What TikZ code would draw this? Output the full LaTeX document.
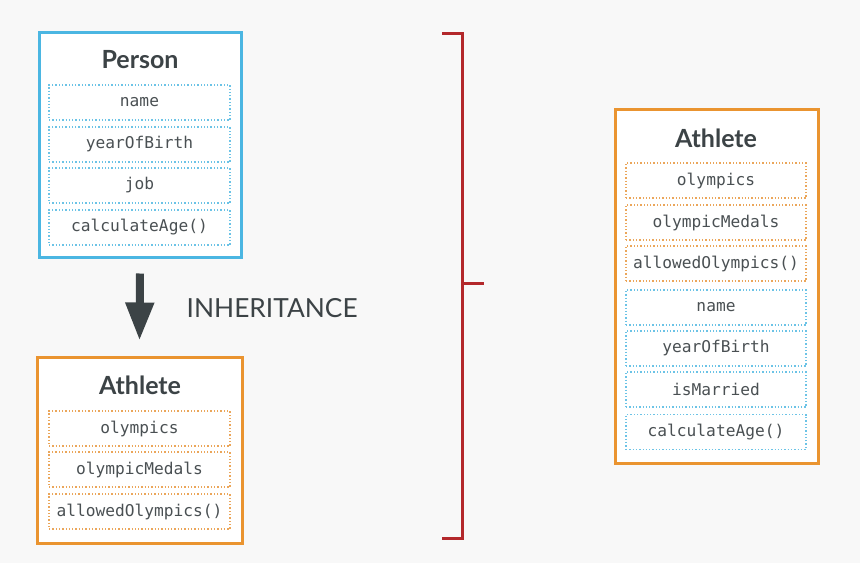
\documentclass[tikz,border=0pt]{standalone}
\usepackage{fontspec}
\setmainfont{Lato}
\newfontfamily\codefont{DejaVu Sans Mono}
\usetikzlibrary{arrows.meta}
\definecolor{bg}{HTML}{F8F8F8}
\definecolor{pblue}{HTML}{4BB6E2}
\definecolor{fblue}{HTML}{6CC3E6}
\definecolor{aorange}{HTML}{EA9430}
\definecolor{forange}{HTML}{EBA65A}
\definecolor{ink}{HTML}{3C4346}
\definecolor{code}{HTML}{4A5053}
\definecolor{brk}{HTML}{B3282B}
\begin{document}
\begin{tikzpicture}[x=1pt,y=-1pt,
  classbox/.style={draw, line width=3pt, fill=white, inner sep=0pt},
  personbox/.style={classbox, draw=pblue},
  athletebox/.style={classbox, draw=aorange},
  title/.style={font=\fontsize{25}{30}\selectfont\bfseries, text=ink},
  field/.style={draw, dotted, line width=1.3pt, fill=white, minimum height=35pt,
    inner sep=0pt, font=\codefont\fontsize{16.2}{19}\selectfont, text=code},
  pfield/.style={field, draw=fblue, minimum width=181pt},
  afield/.style={field, draw=forange, minimum width=181pt},
  rpfield/.style={field, draw=fblue, minimum width=180pt},
  rafield/.style={field, draw=forange, minimum width=180pt},
  bracket/.style={draw=brk, line width=3pt}
]
\fill[bg] (0,0) rectangle (860,563);
\useasboundingbox (0,0) rectangle (860,563);

% Person class
\node[personbox, minimum width=202pt, minimum height=225pt] (person) at (140,144.5) {};
\node[title] (ptitle) at (140,60) {Person};
\node[pfield] (pname) at (139.5,102.5) {name};
\node[pfield] (pyear) at (139.5,144.5) {yearOfBirth};
\node[pfield] (pjob)  at (139.5,185.5) {job};
\node[pfield] (page)  at (139.5,227.5) {calculateAge()};

% Athlete class (inherited part only)
\node[athletebox, minimum width=205pt, minimum height=186pt] (athlete) at (139.5,450) {};
\node[title] (atitle) at (140,385) {Athlete};
\node[afield] (aoly) at (139.5,428.5) {olympics};
\node[afield] (amed) at (139.5,469.5) {olympicMedals};
\node[afield] (aall) at (139.5,511.5) {allowedOlympics()};

% Inheritance arrow and label
\draw[ink, line width=8pt, -{Triangle[width=27pt,length=38pt]}]
  ([yshift=-15pt]person.south) -- ([yshift=15pt]athlete.north);
\node[anchor=west, text=ink, font=\fontsize{26.3}{30}\selectfont, inner sep=0pt] (inh) at (186.5,308) {INHERITANCE};

% Bracket
\coordinate (btl) at (442,33);
\coordinate (btr) at (462,33);
\coordinate (bbl) at (442,538);
\coordinate (bbr) at (462,538);
\coordinate (bmid) at (462,283);
\coordinate (bout) at (484,283);
\draw[bracket] (btl) -- (btr) -- (bbr) -- (bbl);
\draw[bracket] (bmid) -- (bout);

% Full Athlete class
\node[athletebox, minimum width=203pt, minimum height=354pt] (full) at (716.5,286) {};
\node[title] (ftitle) at (716,138) {Athlete};
\node[rafield] (foly)  at (716,180.5) {olympics};
\node[rafield] (fmed)  at (716,222.5) {olympicMedals};
\node[rafield] (fall)  at (716,263.5) {allowedOlympics()};
\node[rpfield] (fname) at (716,307.5) {name};
\node[rpfield] (fyear) at (716,348.5) {yearOfBirth};
\node[rpfield] (fmar)  at (716,389.5) {isMarried};
\node[rpfield] (fage)  at (716,432) {calculateAge()};
\end{tikzpicture}
\end{document}
